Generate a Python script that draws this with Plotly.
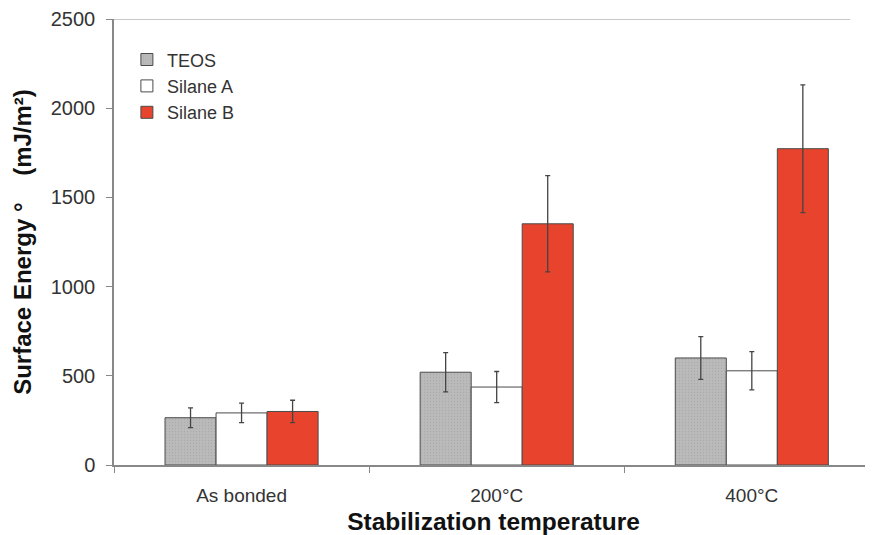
import plotly.graph_objects as go

categories = ["As bonded", "200°C", "400°C"]
series_names = ["TEOS", "Silane A", "Silane B"]
teos = [265, 520, 600]
teos_err = [55, 110, 120]
silane_a = [292, 437, 528]
silane_a_err = [55, 87, 107]
silane_b = [300, 1352, 1773]
silane_b_err = [63, 270, 358]
y_ticks = [0, 500, 1000, 1500, 2000, 2500]

colors = ["#bababa", "#ffffff", "#e8442d"]
values = [teos, silane_a, silane_b]
errors = [teos_err, silane_a_err, silane_b_err]

font = "Liberation Sans, Arial, sans-serif"
fig = go.Figure()
for name, vals, errs, col in zip(series_names, values, errors, colors):
    marker = dict(color=col, line=dict(color="#4a4a4a", width=1))
    if name == "TEOS":
        marker["pattern"] = dict(shape=".", size=3, solidity=0.15, fgcolor="#9a9a9a", bgcolor=col)
    fig.add_trace(go.Bar(
        name=name, x=categories, y=vals, marker=marker,
        error_y=dict(type="data", array=errs, visible=True, color="#444444", thickness=1.3, width=2.5),
    ))

# page body has an 8px margin, so the figure is sized to fill the window from there
fig.update_layout(
    width=865, height=527,
    margin=dict(l=106, r=0, t=11, b=70),
    paper_bgcolor="white", plot_bgcolor="white",
    barmode="group", bargap=0.4, bargroupgap=0,
    font=dict(family=font, color="#333333"),
    showlegend=True,
    legend=dict(x=0.017, y=0.95, xanchor="left", yanchor="top",
                font=dict(size=18, color="#333333"), bgcolor="rgba(0,0,0,0)",
                itemwidth=30),
    xaxis=dict(
        range=[-0.5, 2.475], showline=True, linecolor="#888888", linewidth=1.5,
        ticks="outside", tickson="boundaries", ticklen=6, tickcolor="#888888",
        tickfont=dict(size=19, color="#333333"), showgrid=False, automargin=False,
        ticklabelstandoff=12,
        title=dict(text="<b>Stabilization temperature</b>", font=dict(size=24.5, color="#111111"), standoff=8),
    ),
    yaxis=dict(
        range=[0, 2500], tickvals=y_ticks, showline=True, linecolor="#888888", linewidth=1.5,
        ticks="outside", ticklen=6, tickcolor="#888888", showgrid=False, zeroline=False,
        tickfont=dict(size=20, color="#333333"), automargin=False, ticklabelstandoff=7,
        title=dict(text="<b>Surface Energy °    (mJ/m²)</b>", font=dict(size=24, color="#111111"), standoff=12),
    ),
)
fig.add_shape(type="line", xref="paper", yref="y", x0=0, x1=0.97, y0=2500, y1=2500,
              line=dict(color="#c8c8c8", width=2))
fig.write_html("out.html")
